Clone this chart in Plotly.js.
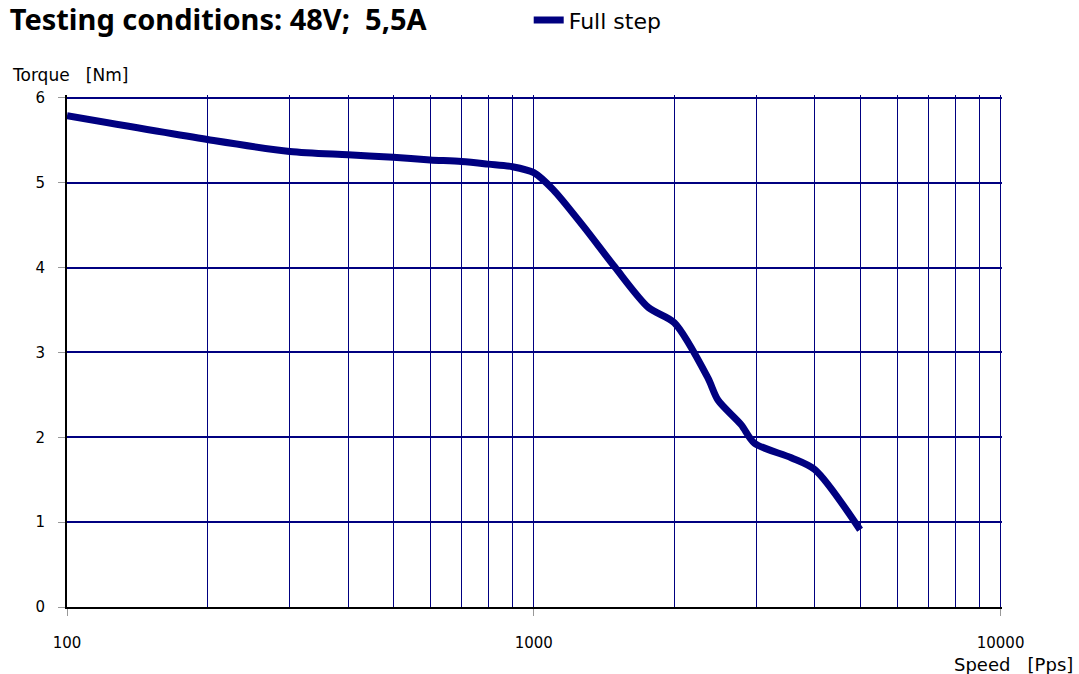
<!DOCTYPE html>
<html>
<head>
<meta charset="utf-8">
<script src="https://cdn.plot.ly/plotly-3.0.1.min.js"></script>
<style>html,body{margin:0;padding:0;background:#fff;}#chart{width:1079px;height:674px;}</style>
</head>
<body>
<div id="chart"></div>
<script>
const speed = [100, 200, 300, 400, 500, 600, 700, 800, 900, 1000, 1100, 1280, 1490, 1760, 2000, 2360, 2480, 2780, 2970, 3560, 4000, 5000];
const torque = [5.79, 5.51, 5.37, 5.33, 5.30, 5.27, 5.25, 5.22, 5.19, 5.12, 4.92, 4.48, 4.01, 3.53, 3.35, 2.70, 2.44, 2.15, 1.93, 1.76, 1.62, 0.91];
const xTicks = [100, 1000, 10000];
const xTickText = ['100', '1000', '10000'];
const xMinor = [200, 300, 400, 500, 600, 700, 800, 900, 2000, 3000, 4000, 5000, 6000, 7000, 8000, 9000];
const yTicks = [0, 1, 2, 3, 4, 5, 6];
const seriesName = 'Full step';
const titleText = 'Testing conditions: 48V;&nbsp;&nbsp;5,5A';
const yTitle = 'Torque&nbsp;&nbsp;&nbsp;[Nm]';
const xTitle = 'Speed&nbsp;&nbsp;&nbsp;[Pps]';

const navy = '#000080';
const font = 'DejaVu Sans, sans-serif';
const tfont = 'Noto Sans, DejaVu Sans, sans-serif';

Plotly.newPlot('chart', [{
  x: speed, y: torque, type: 'scatter', mode: 'lines', name: seriesName,
  line: {color: navy, width: 7, shape: 'spline', smoothing: 0.8},
  showlegend: true
}], {
  width: 1079, height: 674,
  margin: {l: 67, r: 77, t: 95, b: 67},
  paper_bgcolor: '#fff', plot_bgcolor: '#fff',
  font: {family: font, color: '#000', size: 15},
  title: {text: '<b>' + titleText + '</b>', xref: 'container', yref: 'container', x: 0.009, xanchor: 'left', y: 0.971, yanchor: 'middle', font: {size: 29, family: tfont, color: '#000'}},
  showlegend: true,
  legend: {orientation: 'h', xref: 'container', yref: 'container', x: 0.490, xanchor: 'left', y: 0.970, yanchor: 'middle', font: {size: 22, family: font}, bgcolor: 'rgba(0,0,0,0)', itemwidth: 30},
  xaxis: {
    type: 'log', range: [2, 4.003], tickvals: xTicks, ticktext: xTickText,
    showgrid: true, gridcolor: navy, gridwidth: 1,
    minor: {tickvals: xMinor, showgrid: true, gridcolor: navy, gridwidth: 1, ticks: ''},
    ticks: 'outside', ticklen: 7, tickcolor: '#999', tickwidth: 1,
    ticklabelstandoff: 14,
    showline: true, linecolor: '#000', linewidth: 2, mirror: false,
    tickfont: {size: 15, family: font}, zeroline: false, fixedrange: true, automargin: false
  },
  yaxis: {
    range: [0, 6.035], tickvals: yTicks,
    showgrid: true, gridcolor: navy, gridwidth: 2,
    ticks: 'outside', ticklen: 7, tickcolor: '#999', tickwidth: 1,
    ticklabelstandoff: 10,
    showline: true, linecolor: '#000', linewidth: 2,
    zeroline: true, zerolinecolor: '#000', zerolinewidth: 2,
    tickfont: {size: 15, family: font}, fixedrange: true, automargin: false
  },
  annotations: [
    {text: yTitle, xref: 'paper', yref: 'paper', x: -0.061, y: 1.039, xanchor: 'left', yanchor: 'middle', showarrow: false, font: {size: 17, family: font}},
    {text: xTitle, xref: 'paper', yref: 'paper', x: 1.078, y: -0.113, xanchor: 'right', yanchor: 'middle', showarrow: false, font: {size: 18, family: font}}
  ]
}, {displayModeBar: false, staticPlot: true});
</script>
</body>
</html>
